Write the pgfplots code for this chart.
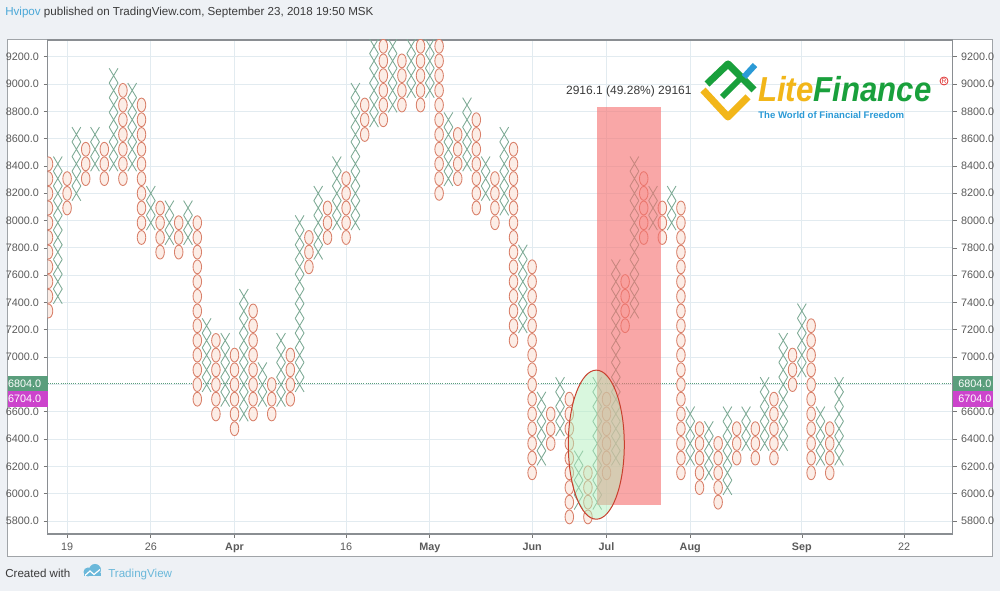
\documentclass[border=0pt]{standalone}
\usepackage{fontspec}
\setmainfont{Liberation Sans}
\usepackage{pgfplots}
\pgfplotsset{compat=1.18}

\definecolor{bgout}{HTML}{EEF1F5}
\definecolor{framec}{HTML}{A0A4A8}
\definecolor{axisc}{HTML}{8A8E92}
\definecolor{gridc}{HTML}{E2EBF0}
\definecolor{xcol}{HTML}{7DAA95}
\definecolor{ocol}{HTML}{D9806A}
\definecolor{ofill}{HTML}{FCEDE6}
\definecolor{lblc}{HTML}{5A5A5A}
\definecolor{tickc}{HTML}{777777}
\definecolor{pgreen}{HTML}{5A9E7C}
\definecolor{pmag}{HTML}{CC44CC}
\definecolor{rectred}{HTML}{F67272}
\definecolor{ellgreen}{HTML}{B4F0BE}
\definecolor{ellline}{HTML}{C8402E}
\definecolor{hvblue}{HTML}{4BA8D8}
\definecolor{darktxt}{HTML}{3A3A3A}
\definecolor{tvblue}{HTML}{6BB8DA}
\definecolor{lfyellow}{HTML}{F2B619}
\definecolor{lfgreen}{HTML}{19A03C}
\definecolor{lfblue}{HTML}{2B9AD6}
\definecolor{lfred}{HTML}{E03030}

\pgfdeclareplotmark{pfx}{%
  \pgfpathmoveto{\pgfqpoint{-3.3pt}{-5.52pt}}%
  \pgfpathlineto{\pgfqpoint{3.3pt}{5.52pt}}%
  \pgfpathmoveto{\pgfqpoint{-3.3pt}{5.52pt}}%
  \pgfpathlineto{\pgfqpoint{3.3pt}{-5.52pt}}%
  \pgfusepathqstroke}
\pgfdeclareplotmark{pfo}{%
  \pgfpathellipse{\pgfpointorigin}{\pgfqpoint{3.2pt}{0pt}}{\pgfqpoint{0pt}{5.2pt}}%
  \pgfusepathqfillstroke}

\pgfplotsset{pfaxis/.style={
  at={(35.625pt,42.75pt)}, anchor=south west,
  scale only axis, width=678.75pt, height=370.5pt,
  xmin=-0.108, xmax=97.2, ymin=5705, ymax=9322,
  ytick={5800,6000,6200,6400,6600,6800,7000,7200,7400,7600,7800,8000,8200,8400,8600,8800,9000,9200},
  yticklabels={5800.0,6000.0,6200.0,6400.0,6600.0,{},7000.0,7200.0,7400.0,7600.0,7800.0,8000.0,8200.0,8400.0,8600.0,8800.0,9000.0,9200.0},
  tick align=outside, major tick length=3pt,
  tick style={color=tickc, line width=0.5pt},
  ticklabel style={font=\fontsize{8.1pt}{9pt}\selectfont, color=lblc},
}}

\begin{document}
\begin{tikzpicture}[x=0.75pt,y=0.75pt]
\fill[bgout] (0,0) rectangle (1000,591);
\filldraw[fill=white,draw=framec,line width=0.75pt] (7.5,34) rectangle (992.5,551);

\begin{axis}[pfaxis,
  xtick={2,11,20,32,41,52,60,69,81,92},
  xticklabels={19,26,\textbf{Apr},16,\textbf{May},\textbf{Jun},\textbf{Jul},\textbf{Aug},\textbf{Sep},22},
  xtick pos=bottom, ytick pos=left,
  grid=major, major grid style={color=gridc, line width=0.6pt},
  axis line style={color=axisc, line width=0.8pt},
  clip marker paths=true,
]
\addplot[pgreen, densely dotted, line width=0.6pt, forget plot] coordinates {(-1,6804) (98,6804)};

% O columns
\addplot[only marks, mark=pfo, mark options={draw=ocol, fill=ofill, line width=0.65pt}] coordinates {
(0,7338)(0,7445)(0,7553)(0,7661)(0,7769)(0,7876)(0,7984)(0,8092)(0,8199)(0,8307)(0,8415)
(2,8092)(2,8199)(2,8307)
(4,8307)(4,8415)(4,8522)
(6,8307)(6,8415)(6,8522)
(8,8307)(8,8415)(8,8522)(8,8630)(8,8738)(8,8846)(8,8953)
(10,7876)(10,7984)(10,8092)(10,8199)(10,8307)(10,8415)(10,8522)(10,8630)(10,8738)(10,8846)
(12,7769)(12,7876)(12,7984)(12,8092)
(14,7769)(14,7876)(14,7984)
(16,6692)(16,6799)(16,6907)(16,7015)(16,7122)(16,7230)(16,7338)(16,7445)(16,7553)(16,7661)(16,7769)(16,7876)(16,7984)
(18,6584)(18,6692)(18,6799)(18,6907)(18,7015)(18,7122)
(20,6476)(20,6584)(20,6692)(20,6799)(20,6907)(20,7015)
(22,6584)(22,6692)(22,6799)(22,6907)(22,7015)(22,7122)(22,7230)(22,7338)
(24,6584)(24,6692)(24,6799)
(26,6692)(26,6799)(26,6907)(26,7015)
(28,7661)(28,7769)(28,7876)
(30,7876)(30,7984)(30,8092)
(32,7876)(32,7984)(32,8092)(32,8199)(32,8307)
(34,8630)(34,8738)(34,8846)
(36,8738)(36,8846)(36,8953)(36,9061)(36,9169)(36,9276)
(38,8846)(38,8953)(38,9061)(38,9169)
(40,8846)(40,8953)(40,9061)(40,9169)(40,9276)
(42,8199)(42,8307)(42,8415)(42,8522)(42,8630)(42,8738)(42,8846)(42,8953)(42,9061)(42,9169)(42,9276)
(44,8307)(44,8415)(44,8522)(44,8630)
(46,8092)(46,8199)(46,8307)(46,8415)(46,8522)(46,8630)(46,8738)
(48,7984)(48,8092)(48,8199)(48,8307)
(50,7122)(50,7230)(50,7338)(50,7445)(50,7553)(50,7661)(50,7769)(50,7876)(50,7984)(50,8092)(50,8199)(50,8307)(50,8415)(50,8522)
(52,6153)(52,6261)(52,6368)(52,6476)(52,6584)(52,6692)(52,6799)(52,6907)(52,7015)(52,7122)(52,7230)(52,7338)(52,7445)(52,7553)(52,7661)
(54,6368)(54,6476)(54,6584)
(56,5830)(56,5938)(56,6045)(56,6153)(56,6261)(56,6368)(56,6476)(56,6584)(56,6692)
(58,5830)(58,5938)(58,6045)(58,6153)
(60,6153)(60,6261)(60,6368)(60,6476)(60,6584)(60,6692)
(62,7230)(62,7338)(62,7445)(62,7553)
(64,7876)(64,7984)(64,8092)(64,8199)(64,8307)
(66,7876)(66,7984)(66,8092)
(68,6153)(68,6261)(68,6368)(68,6476)(68,6584)(68,6692)(68,6799)(68,6907)(68,7015)(68,7122)(68,7230)(68,7338)(68,7445)(68,7553)(68,7661)(68,7769)(68,7876)(68,7984)(68,8092)
(70,6045)(70,6153)(70,6261)(70,6368)(70,6476)
(72,5938)(72,6045)(72,6153)(72,6261)(72,6368)
(74,6261)(74,6368)(74,6476)
(76,6261)(76,6368)(76,6476)
(78,6261)(78,6368)(78,6476)(78,6584)(78,6692)
(80,6799)(80,6907)(80,7015)
(82,6153)(82,6261)(82,6368)(82,6476)(82,6584)(82,6692)(82,6799)(82,6907)(82,7015)(82,7122)(82,7230)
(84,6153)(84,6261)(84,6368)(84,6476)
};

% X columns
\addplot[only marks, mark=pfx, mark options={draw=xcol, line width=0.65pt}] coordinates {
(1,7445)(1,7553)(1,7661)(1,7769)(1,7876)(1,7984)(1,8092)(1,8199)(1,8307)(1,8415)
(3,8199)(3,8307)(3,8415)(3,8522)(3,8630)
(5,8415)(5,8522)(5,8630)
(7,8415)(7,8522)(7,8630)(7,8738)(7,8846)(7,8953)(7,9061)
(9,8415)(9,8522)(9,8630)(9,8738)(9,8846)(9,8953)
(11,7984)(11,8092)(11,8199)
(13,7876)(13,7984)(13,8092)
(15,7876)(15,7984)(15,8092)
(17,6799)(17,6907)(17,7015)(17,7122)(17,7230)
(19,6692)(19,6799)(19,6907)(19,7015)(19,7122)
(21,6584)(21,6692)(21,6799)(21,6907)(21,7015)(21,7122)(21,7230)(21,7338)(21,7445)
(23,6692)(23,6799)(23,6907)
(25,6692)(25,6799)(25,6907)(25,7015)(25,7122)
(27,6799)(27,6907)(27,7015)(27,7122)(27,7230)(27,7338)(27,7445)(27,7553)(27,7661)(27,7769)(27,7876)(27,7984)
(29,7769)(29,7876)(29,7984)(29,8092)(29,8199)
(31,7984)(31,8092)(31,8199)(31,8307)(31,8415)
(33,7984)(33,8092)(33,8199)(33,8307)(33,8415)(33,8522)(33,8630)(33,8738)(33,8846)(33,8953)
(35,8738)(35,8846)(35,8953)(35,9061)(35,9169)(35,9276)
(37,8846)(37,8953)(37,9061)(37,9169)(37,9276)
(39,8953)(39,9061)(39,9169)(39,9276)
(41,8953)(41,9061)(41,9169)(41,9276)
(43,8307)(43,8415)(43,8522)(43,8630)(43,8738)
(45,8415)(45,8522)(45,8630)(45,8738)(45,8846)
(47,8199)(47,8307)(47,8415)
(49,8092)(49,8199)(49,8307)(49,8415)(49,8522)(49,8630)
(51,7230)(51,7338)(51,7445)(51,7553)(51,7661)(51,7769)
(53,6261)(53,6368)(53,6476)(53,6584)(53,6692)
(55,6476)(55,6584)(55,6692)(55,6799)
(57,5938)(57,6045)(57,6153)(57,6261)
(59,5938)(59,6045)(59,6153)(59,6261)(59,6368)(59,6476)(59,6584)(59,6692)(59,6799)
(61,6261)(61,6368)(61,6476)(61,6584)(61,6692)(61,6799)(61,6907)(61,7015)(61,7122)(61,7230)(61,7338)(61,7445)(61,7553)(61,7661)
(63,7338)(63,7445)(63,7553)(63,7661)(63,7769)(63,7876)(63,7984)(63,8092)(63,8199)(63,8307)(63,8415)
(65,7984)(65,8092)(65,8199)
(67,7984)(67,8092)(67,8199)
(69,6261)(69,6368)(69,6476)(69,6584)
(71,6153)(71,6261)(71,6368)(71,6476)
(73,6045)(73,6153)(73,6261)(73,6368)(73,6476)(73,6584)
(75,6368)(75,6476)(75,6584)
(77,6368)(77,6476)(77,6584)(77,6692)(77,6799)
(79,6368)(79,6476)(79,6584)(79,6692)(79,6799)(79,6907)(79,7015)(79,7122)
(81,6907)(81,7015)(81,7122)(81,7230)(81,7338)
(83,6261)(83,6368)(83,6476)(83,6584)
(85,6261)(85,6368)(85,6476)(85,6584)(85,6692)(85,6799)
};

\fill[rectred, opacity=0.62] (axis cs:58.98,5917) rectangle (axis cs:65.86,8834);
\filldraw[fill=ellgreen, fill opacity=0.5, draw=ellline, line width=0.75pt] (axis cs:58.9,6359) ellipse [x radius=21pt, y radius=55.9pt];
\node[font=\fontsize{9pt}{10pt}\selectfont, text=darktxt, inner sep=0pt] at (axis cs:62.4,8947) {2916.1 (49.28\%) 29161};
\end{axis}

\begin{axis}[pfaxis,
  axis x line=none, axis y line*=right,
  axis line style={draw=none},
]
\addplot[draw=none, forget plot] coordinates {(0,6000)};
\end{axis}

% price labels
\fill[pgreen] (7.5,200) rectangle (47.5,215);
\fill[pmag] (7.5,184) rectangle (47.5,200);
\fill[pgreen] (952.5,200) rectangle (992.5,215);
\fill[pmag] (952.5,184) rectangle (992.5,200);
\node[anchor=east, inner sep=0pt, text=white, font=\fontsize{8.1pt}{9pt}\selectfont] at (41.5,207.5) {6804.0};
\node[anchor=east, inner sep=0pt, text=white, font=\fontsize{8.1pt}{9pt}\selectfont] at (41.5,192) {6704.0};
\node[anchor=west, inner sep=0pt, text=white, font=\fontsize{8.1pt}{9pt}\selectfont] at (958,207.5) {6804.0};
\node[anchor=west, inner sep=0pt, text=white, font=\fontsize{8.1pt}{9pt}\selectfont] at (958,192) {6704.0};

% header and footer
\node[anchor=base west, inner sep=0pt, font=\fontsize{8.7pt}{10pt}\selectfont] at (5,575) {\textcolor{hvblue}{Hvipov} \textcolor{darktxt}{published on TradingView.com, September 23, 2018 19:50 MSK}};
\node[anchor=base west, inner sep=0pt, font=\fontsize{8.7pt}{10pt}\selectfont, text=darktxt] at (5,13) {Created with};
\fill[tvblue] (88,19) circle (4.5);
\fill[tvblue] (95,21) circle (6);
\fill[tvblue] (84,15) rectangle (101,18);
\draw[white, line width=0.9pt] (85,15.5) -- (90,20) -- (94,16.5) -- (100,21.5);
\node[anchor=base west, inner sep=0pt, font=\fontsize{8.7pt}{10pt}\selectfont, text=tvblue] at (108,13) {TradingView};

% LiteFinance logo
\draw[lfyellow, line width=5.3pt, line join=round] (703,501) -- (728,474) -- (748,494);
\draw[lfgreen, line width=5.3pt, line join=round] (707,507) -- (728,527) -- (754,501);
\draw[lfgreen, line width=4.5pt] (722,494) -- (741,513);
\draw[lfblue, line width=4.5pt] (744,514) -- (755,526);
\node[anchor=base west, inner sep=0pt, text depth=0pt, xscale=0.9, font=\fontsize{26pt}{28pt}\selectfont\bfseries\itshape] at (758,489) {\textcolor{lfyellow}{Lite}\textcolor{lfgreen}{Finance}};
\node[anchor=base west, inner sep=0pt, font=\fontsize{7.2pt}{8pt}\selectfont\bfseries, text=lfblue] at (758,472.5) {The World of Financial Freedom};
\draw[lfred, line width=0.6pt] (944,510) circle (4);
\node[inner sep=0pt, text=lfred, font=\fontsize{5pt}{5pt}\selectfont] at (944,510) {R};
\end{tikzpicture}
\end{document}
